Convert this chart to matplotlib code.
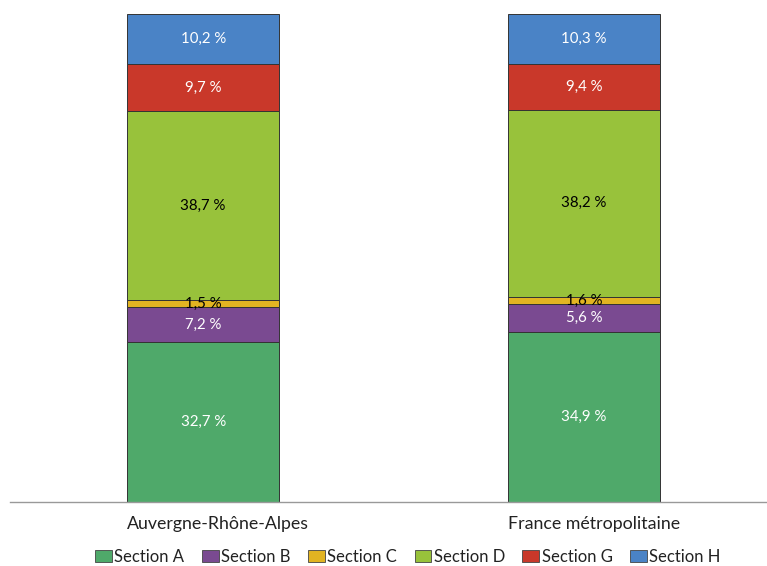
import numpy as np
import matplotlib
matplotlib.use("Agg")
import matplotlib.pyplot as plt
from matplotlib.patches import Patch

plt.rcParams['font.family'] = ['Lato', 'DejaVu Sans']

categories = ["Auvergne-Rhône-Alpes", "France métropolitaine"]
sections   = ["Section A", "Section B", "Section C", "Section D", "Section G", "Section H"]
values = {
    "Section A": [32.7, 34.9],
    "Section B": [7.2, 5.6],
    "Section C": [1.5, 1.6],
    "Section D": [38.7, 38.2],
    "Section G": [9.7, 9.4],
    "Section H": [10.2, 10.3],
}
colors = {
    "Section A": "#4fa96a",
    "Section B": "#7a4a91",
    "Section C": "#e2b422",
    "Section D": "#98c23b",
    "Section G": "#c9382a",
    "Section H": "#4a83c6",
}
text_colors = {
    "Section A": "white", "Section B": "white", "Section C": "black",
    "Section D": "black", "Section G": "white", "Section H": "white",
}

fig = plt.figure(figsize=(7.67, 5.66), dpi=100)
ax = fig.add_axes([10 / 767, 1 - 502 / 566, 757 / 767, (502 - 14) / 566])

x = np.arange(len(categories))
bw = 0.4
bottom = np.zeros(len(categories))
for sec in sections:
    vals = np.array(values[sec])
    ax.bar(x, vals, bottom=bottom, width=bw, color=colors[sec],
           edgecolor="#333333", linewidth=0.7)
    for xi, b, v in zip(x, bottom, vals):
        ax.text(xi, b + v / 2, f"{v:.1f} %".replace(".", ","),
                ha="center", va="center", fontsize=10.8, color=text_colors[sec])
    bottom += vals

ax.set_xlim(-0.507, 1.48)
ax.set_ylim(0, 100)
for s in ["top", "right", "left"]:
    ax.spines[s].set_visible(False)
ax.spines["bottom"].set_color("#999999")
ax.spines["bottom"].set_linewidth(1.0)
ax.set_yticks([])
ax.set_xticks([])

# category labels start at each bar's left edge
for xi, cat in zip(x, categories):
    ax.text(xi - bw / 2, -4.5, cat, ha="left", va="center", fontsize=12.8,
            color="#222222", clip_on=False)

handles = [Patch(facecolor=colors[s], edgecolor="#444444", linewidth=0.6) for s in sections]
fig.legend(handles, sections, loc="center", bbox_to_anchor=(408 / 767, 1 - 557 / 566),
           ncol=6, frameon=False, fontsize=12, handlelength=1.0, handleheight=0.75,
           handletextpad=0.15, columnspacing=1.05, labelcolor="#222222")

fig.savefig("out.png", dpi=100)
